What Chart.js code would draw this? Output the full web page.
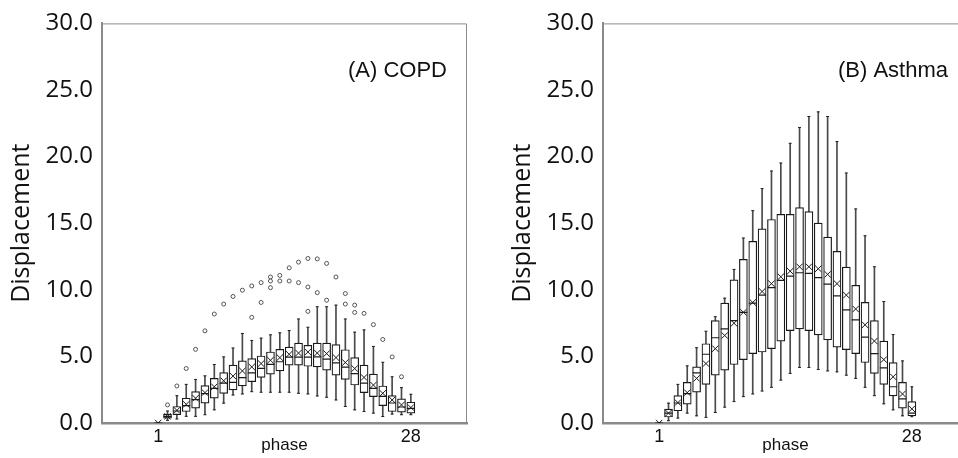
<!DOCTYPE html>
<html lang="en">
<head>
  <meta charset="UTF-8" />
  <title>Displacement by phase</title>
  <script src="https://cdn.jsdelivr.net/npm/chart.js"></script>
  <style>
    html, body { margin: 0; padding: 0; background: #fff; overflow: hidden; }
    .wrap { position: relative; width: 958px; height: 458px; overflow: hidden; }
    .panel { position: absolute; top: 0; width: 480px; height: 458px; }
    #panelA { left: 0; }
    #panelB { left: 501px; }
  </style>
</head>
<body>
  <div class="wrap">
    <div class="panel" id="panelA"><canvas id="chartA" width="480" height="458"></canvas></div>
    <div class="panel" id="panelB"><canvas id="chartB" width="480" height="458"></canvas></div>
  </div>

  <script>
    const phases = [1, 2, 3, 4, 5, 6, 7, 8, 9, 10, 11, 12, 13, 14, 15, 16, 17, 18, 19, 20, 21, 22, 23, 24, 25, 26, 27, 28];
    const phaseTicks = [1, 28];
    const yTicks = [0, 5, 10, 15, 20, 25, 30];

    // (A) COPD
    const copdLow    = [0, 0.2, 0.3, 0.5, 0.5, 0.62, 0.99, 1.49, 2.1, 2.18, 2.35, 2.31, 2.31, 2.31, 2.31, 2.23, 2.18, 2.03, 1.93, 1.73, 1.24, 0.99, 0.86, 0.74, 0.49, 0.67, 0.62, 0.62];
    const copdQ1     = [0, 0.37, 0.62, 0.86, 1.12, 1.49, 1.86, 2.23, 2.48, 2.78, 3.1, 3.42, 3.67, 3.91, 4.34, 4.34, 4.26, 4.21, 3.97, 3.59, 3.27, 2.85, 2.28, 1.98, 1.31, 0.86, 0.82, 0.74];
    const copdMedian = [0, 0.5, 0.9, 1.3, 1.75, 2.2, 2.6, 3.0, 3.05, 3.4, 3.77, 4.1, 4.4, 4.6, 4.95, 4.95, 4.95, 4.96, 4.8, 4.51, 4.2, 3.7, 3.0, 2.6, 2.0, 1.5, 1.2, 1.1];
    const copdQ3     = [0, 0.67, 1.24, 1.86, 2.35, 2.8, 3.35, 3.79, 4.34, 4.66, 4.84, 5.03, 5.33, 5.53, 5.7, 6.0, 5.83, 6.0, 6.0, 5.88, 5.5, 4.91, 4.34, 3.67, 2.78, 2.05, 1.81, 1.56];
    const copdHigh   = [0, 0.9, 2.05, 2.9, 3.27, 3.54, 4.39, 4.96, 5.63, 6.72, 6.2, 6.37, 6.62, 6.77, 6.94, 7.81, 7.19, 8.73, 8.73, 8.85, 7.81, 6.82, 6.99, 5.75, 4.56, 3.47, 2.65, 2.16];
    const copdMean   = [0, 0.5, 0.95, 1.4, 1.86, 2.28, 2.72, 3.17, 3.52, 3.91, 4.21, 4.46, 4.71, 4.91, 5.16, 5.25, 5.33, 5.25, 5.21, 4.91, 4.54, 4.09, 3.42, 2.85, 2.23, 1.73, 1.36, 1.16];
    const copdOutPhase = [2, 3, 4, 5, 6, 7, 8, 9, 10, 11, 11, 12, 12, 13, 13, 13, 14, 14, 15, 15, 16, 16, 17, 17, 17, 18, 18, 19, 19, 20, 21, 21, 22, 22, 23, 24, 25, 26, 27];
    const copdOutValue = [1.36, 2.78, 4.09, 5.53, 6.92, 8.18, 8.93, 9.5, 9.97, 10.29, 7.93, 10.54, 9.05, 10.96, 10.66, 10.16, 11.08, 10.66, 11.65, 10.66, 12.08, 10.54, 12.35, 10.21, 8.38, 12.32, 9.79, 11.98, 9.22, 10.96, 9.72, 8.93, 8.85, 8.3, 8.23, 7.39, 6.27, 4.96, 3.47];

    // (B) Asthma
    const asthLow    = [0, 0.17, 0.37, 0.74, 0.54, 0.42, 0.79, 1.19, 1.61, 1.98, 2.18, 2.4, 2.68, 3.22, 3.72, 4.17, 4.17, 4.02, 3.91, 3.84, 3.59, 3.35, 2.68, 2.05, 1.44, 0.99, 0.54, 0.47];
    const asthQ1     = [0, 0.45, 0.92, 1.41, 2.31, 2.9, 3.59, 3.97, 4.39, 4.76, 5.21, 5.33, 5.58, 6.15, 6.94, 7.07, 6.94, 6.62, 6.25, 5.7, 5.51, 5.21, 4.54, 3.72, 2.9, 2.03, 1.12, 0.54];
    const asthMedian = [0, 0.74, 1.5, 2.2, 3.77, 5.16, 6.4, 7.07, 7.69, 8.3, 9.0, 9.6, 10.16, 10.71, 11.03, 11.28, 11.23, 10.91, 10.42, 9.55, 8.5, 7.74, 6.44, 5.21, 4.14, 2.72, 1.81, 0.74];
    const asthQ3     = [0, 1.04, 2.05, 3.05, 4.21, 5.95, 7.69, 9.0, 10.74, 12.28, 13.64, 14.58, 15.28, 15.67, 15.67, 16.17, 15.87, 15.0, 13.96, 12.89, 11.7, 10.34, 9.05, 7.69, 6.15, 4.54, 3.05, 1.61];
    const asthHigh   = [0, 1.49, 2.9, 4.29, 5.65, 6.89, 7.98, 9.37, 11.53, 13.89, 15.94, 17.6, 18.92, 19.52, 21.0, 22.19, 23.01, 23.36, 23.01, 21.13, 18.77, 16.07, 14.06, 11.73, 9.12, 6.64, 4.66, 2.72];
    const asthMean   = [0, 0.74, 1.53, 2.28, 3.35, 4.46, 5.58, 6.57, 7.49, 8.31, 9.05, 9.87, 10.46, 10.98, 11.4, 11.73, 11.73, 11.58, 11.16, 10.46, 9.6, 8.56, 7.37, 6.15, 4.76, 3.47, 2.18, 1.06];
    const asthOutPhase = [];
    const asthOutValue = [];

    // frame (top/right lines) and the panel label
    const panelDecor = {
      id: 'panelDecor',
      afterDatasetsDraw(chart, args, opts) {
        const { ctx, chartArea: a } = chart;
        ctx.save();
        ctx.strokeStyle = '#8c8c8c';
        ctx.lineWidth = 1;
        ctx.beginPath();
        ctx.moveTo(a.left, a.top + 0.5);
        ctx.lineTo(a.right - 0.5, a.top + 0.5);
        ctx.lineTo(a.right - 0.5, a.bottom);
        ctx.stroke();
        ctx.font = '22px "Liberation Sans", Arial, sans-serif';
        ctx.fillStyle = '#111';
        ctx.textAlign = 'right';
        ctx.textBaseline = 'middle';
        ctx.fillText(opts.text, a.left + 345, a.top + 48);
        ctx.restore();
      }
    };

    function boxDatasets(lo, q1, med, q3, hi, mean, outX, outY) {
      const pts = arr => phases.map((p, i) => ({ x: p, y: arr[i] }));
      const rng = (a, b) => phases.map((p, i) => ({ x: p, y: [a[i], b[i]] }));
      return [
        { type: 'bar', data: rng(lo, hi), barThickness: 1, backgroundColor: '#4a4a4a', grouped: false, order: 5 },
        { type: 'bar', data: rng(q1, q3), barThickness: 8, backgroundColor: '#fff', borderColor: '#1a1a1a',
          borderWidth: 1.2, borderSkipped: false, grouped: false, order: 4 },
        { type: 'scatter', data: pts(lo).concat(pts(hi)), pointStyle: 'line', pointRadius: 1.5,
          borderColor: '#222', borderWidth: 1, order: 3 },
        { type: 'scatter', data: pts(med), pointStyle: 'line', pointRadius: 4, borderColor: '#1a1a1a', borderWidth: 1.2, order: 2 },
        { type: 'scatter', data: pts(mean), pointStyle: 'crossRot', pointRadius: 4.5, borderColor: '#1a1a1a', borderWidth: 1, order: 1 },
        { type: 'scatter', data: outX.map((x, i) => ({ x: x, y: outY[i] })), pointStyle: 'circle', pointRadius: 2,
          borderColor: '#444', backgroundColor: '#fff', borderWidth: 0.9, order: 0 }
      ];
    }

    function makeChart(id, label, datasets) {
      return new Chart(document.getElementById(id), {
        type: 'bar',
        data: { datasets },
        options: {
          responsive: false,
          animation: false,
          events: [],
          layout: { padding: { top: 20, right: 13, left: 0, bottom: 0 } },
          plugins: {
            legend: { display: false },
            tooltip: { enabled: false },
            panelDecor: { text: label }
          },
          scales: {
            x: {
              type: 'linear',
              min: -5,
              max: 34,
              offset: false,
              afterBuildTicks: axis => { axis.ticks = phaseTicks.map(v => ({ value: v })); },
              afterFit: s => { s.height = 35; },
              grid: { display: true, drawOnChartArea: false, drawTicks: false, offset: false },
              border: { color: '#8a8a8a', width: 2.5 },
              ticks: { color: '#111', padding: 3, font: { family: '"Liberation Sans", Arial', size: 18 } },
              title: { display: true, text: 'phase', color: '#111', padding: { top: 0, bottom: 2 },
                       font: { family: '"Liberation Sans", Arial', size: 17 } }
            },
            y: {
              min: 0,
              max: 30,
              afterBuildTicks: axis => { axis.ticks = yTicks.map(v => ({ value: v })); },
              afterFit: s => { s.width = 102; },
              grid: { display: true, drawOnChartArea: false, drawTicks: false },
              border: { color: '#8a8a8a', width: 2 },
              ticks: { color: '#111', padding: 9, callback: v => v.toFixed(1),
                       font: { family: '"Open Sans"', size: 24 } },
              title: { display: true, text: 'Displacement', color: '#111', padding: { top: 7, bottom: 0 },
                       font: { family: '"Open Sans"', size: 25 } }
            }
          }
        },
        plugins: [panelDecor]
      });
    }

    makeChart('chartA', '(A) COPD',
      boxDatasets(copdLow, copdQ1, copdMedian, copdQ3, copdHigh, copdMean, copdOutPhase, copdOutValue));
    makeChart('chartB', '(B) Asthma',
      boxDatasets(asthLow, asthQ1, asthMedian, asthQ3, asthHigh, asthMean, asthOutPhase, asthOutValue));
  </script>
</body>
</html>
